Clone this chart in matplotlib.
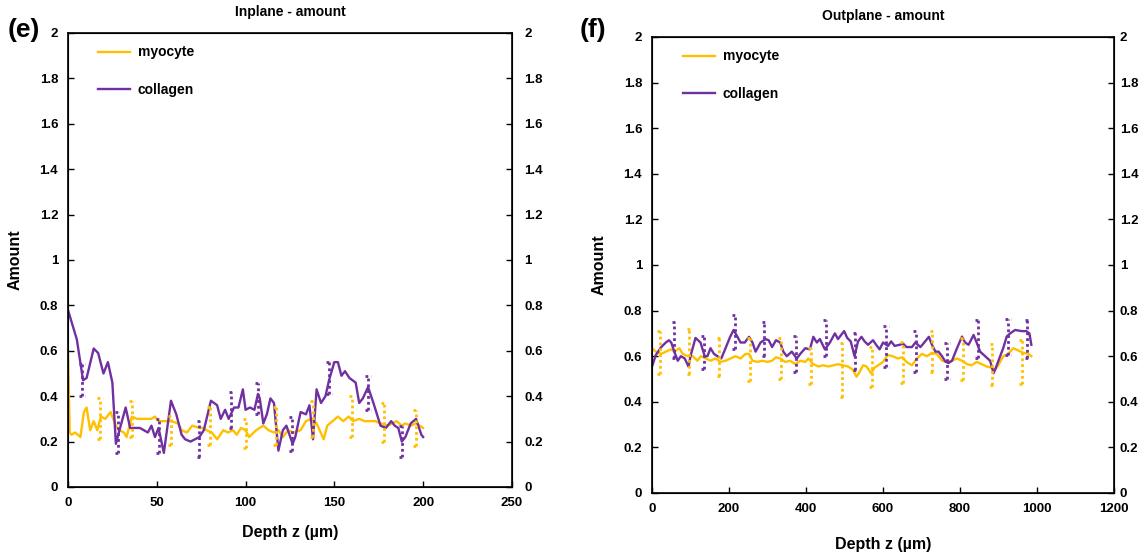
import matplotlib
matplotlib.use("Agg")
import matplotlib.pyplot as plt

plt.rcParams['font.family'] = ['Liberation Sans', 'DejaVu Sans']
plt.rcParams['font.weight'] = 'bold'

MYO_COLOR = '#FFC000'
COL_COLOR = '#7030A0'

# In-plane amount (depth in um)
inplane_myo_z = [0, 1, 2, 4, 7, 9, 10.5, 12.5, 14.5, 16.5, 18.5, 21, 24, 27, 29, 31.5, 33, 36, 39, 43,
                 47, 49, 51, 54, 58, 62, 64, 67, 70, 74, 76.5, 78, 81, 84, 87.5, 90, 93, 95, 97.5, 100,
                 102, 106, 110, 113, 116, 118.5, 121, 124, 127, 131, 134, 137, 140, 144, 146, 152, 155,
                 158, 160.5, 164, 167, 170, 173, 176, 180, 182.5, 185, 188, 190, 193, 196, 200]
inplane_myo = [0.60, 0.24, 0.23, 0.24, 0.22, 0.33, 0.35, 0.25, 0.29, 0.25, 0.31, 0.30, 0.33, 0.27, 0.25,
               0.24, 0.22, 0.31, 0.30, 0.30, 0.30, 0.31, 0.29, 0.29, 0.29, 0.28, 0.25, 0.24, 0.27, 0.26,
               0.26, 0.25, 0.24, 0.21, 0.25, 0.24, 0.25, 0.23, 0.26, 0.25, 0.22, 0.25, 0.27, 0.25, 0.24,
               0.25, 0.22, 0.25, 0.24, 0.25, 0.29, 0.30, 0.28, 0.21, 0.27, 0.31, 0.29, 0.31, 0.29, 0.30,
               0.29, 0.29, 0.29, 0.28, 0.27, 0.28, 0.29, 0.27, 0.28, 0.27, 0.28, 0.26]

inplane_col_z = [0, 5, 8.5, 10.5, 14.5, 17, 20, 22.5, 25, 27, 29, 32.5, 35, 40.5, 45, 47, 49, 51, 54, 58,
                 61, 64, 66, 69, 74, 76.5, 80.5, 84, 86, 88.5, 90.5, 93.5, 96, 98.5, 100, 102.5, 105, 107,
                 108, 110, 112, 114, 116, 118.5, 121, 123, 126.5, 128, 131, 134, 136, 138, 140, 142.5, 145,
                 147, 150, 152, 154, 156, 158.5, 162, 164, 166, 169, 172, 176, 179, 182, 184, 186, 188,
                 190, 193, 196, 199, 200]
inplane_col = [0.78, 0.65, 0.47, 0.48, 0.61, 0.59, 0.50, 0.55, 0.46, 0.19, 0.25, 0.35, 0.26, 0.26, 0.24,
               0.27, 0.22, 0.26, 0.15, 0.38, 0.32, 0.23, 0.21, 0.20, 0.22, 0.25, 0.38, 0.36, 0.30, 0.34,
               0.30, 0.35, 0.35, 0.43, 0.34, 0.35, 0.34, 0.41, 0.39, 0.28, 0.32, 0.39, 0.37, 0.16, 0.25,
               0.27, 0.19, 0.22, 0.33, 0.32, 0.36, 0.21, 0.43, 0.37, 0.40, 0.47, 0.55, 0.55, 0.49, 0.51,
               0.48, 0.46, 0.37, 0.39, 0.44, 0.37, 0.27, 0.26, 0.29, 0.27, 0.26, 0.20, 0.22, 0.28, 0.30,
               0.23, 0.22]

# In-plane error bars (mean +/- sd at sampled depths)
inplane_myo_err_z = [18, 36, 58, 80, 100, 117, 138, 160, 178, 196]
inplane_myo_err_mean = [0.30, 0.30, 0.25, 0.27, 0.235, 0.27, 0.30, 0.31, 0.285, 0.26]
inplane_myo_err_sd = [0.09, 0.08, 0.063, 0.083, 0.065, 0.083, 0.08, 0.09, 0.085, 0.08]
inplane_col_err_z = [8, 28, 51, 74, 92, 107, 126, 147, 169, 188]
inplane_col_err_mean = [0.47, 0.24, 0.225, 0.21, 0.34, 0.39, 0.235, 0.48, 0.415, 0.20]
inplane_col_err_sd = [0.07, 0.09, 0.075, 0.08, 0.08, 0.07, 0.075, 0.07, 0.075, 0.07]

# Out-of-plane amount
outplane_myo_z = [0, 10, 24, 36, 49, 58, 71, 80, 93, 106, 118, 127, 140, 152, 165, 178, 191, 204, 217,
                  230, 243, 252, 261, 274, 286, 299, 312, 322, 333, 346, 359, 372, 385, 398, 406, 419,
                  432, 445, 458, 471, 484, 496, 509, 522, 531, 539, 548, 557, 569, 578, 587, 600, 612,
                  625, 638, 650, 661, 675, 688, 701, 714, 727, 740, 753, 766, 779, 792, 805, 818, 830,
                  843, 856, 869, 881, 891, 899, 912, 925, 938, 951, 964, 977, 985]
outplane_myo = [0.635, 0.62, 0.61, 0.62, 0.63, 0.62, 0.635, 0.61, 0.60, 0.60, 0.58, 0.60, 0.59, 0.58,
                0.59, 0.575, 0.58, 0.59, 0.60, 0.59, 0.61, 0.61, 0.58, 0.575, 0.58, 0.575, 0.58, 0.595,
                0.59, 0.575, 0.58, 0.565, 0.58, 0.575, 0.59, 0.565, 0.555, 0.56, 0.555, 0.56, 0.565,
                0.56, 0.555, 0.54, 0.51, 0.53, 0.56, 0.555, 0.525, 0.55, 0.56, 0.575, 0.605, 0.60, 0.59,
                0.595, 0.575, 0.56, 0.59, 0.61, 0.60, 0.615, 0.61, 0.58, 0.575, 0.58, 0.59, 0.58, 0.565,
                0.56, 0.575, 0.565, 0.555, 0.55, 0.54, 0.56, 0.60, 0.61, 0.635, 0.625, 0.615, 0.61, 0.60]

outplane_col_z = [0, 10, 24, 36, 44, 50, 58, 67, 75, 85, 95, 100, 113, 126, 137, 144, 152, 161, 170, 180,
                  191, 203, 212, 222, 230, 241, 252, 261, 269, 282, 295, 303, 312, 322, 333, 341, 350,
                  363, 376, 385, 398, 410, 419, 428, 436, 449, 462, 475, 483, 492, 499, 507, 516, 526,
                  535, 544, 552, 561, 574, 582, 591, 600, 613, 621, 630, 643, 652, 661, 675, 684, 697,
                  705, 719, 727, 736, 744, 753, 762, 770, 779, 792, 805, 813, 822, 835, 843, 852, 865,
                  878, 887, 893, 904, 912, 921, 930, 943, 960, 972, 980, 985]
outplane_col = [0.554, 0.605, 0.64, 0.66, 0.67, 0.66, 0.62, 0.58, 0.60, 0.59, 0.554, 0.60, 0.68, 0.66,
                0.60, 0.60, 0.635, 0.61, 0.60, 0.59, 0.635, 0.685, 0.715, 0.685, 0.66, 0.66, 0.685, 0.66,
                0.62, 0.66, 0.675, 0.67, 0.64, 0.67, 0.66, 0.62, 0.60, 0.62, 0.59, 0.61, 0.635, 0.63,
                0.685, 0.66, 0.675, 0.63, 0.66, 0.70, 0.675, 0.695, 0.71, 0.68, 0.665, 0.60, 0.665,
                0.685, 0.665, 0.65, 0.67, 0.65, 0.63, 0.66, 0.645, 0.665, 0.645, 0.65, 0.655, 0.64,
                0.64, 0.66, 0.64, 0.656, 0.685, 0.65, 0.62, 0.62, 0.60, 0.576, 0.57, 0.58, 0.635, 0.686,
                0.66, 0.65, 0.693, 0.66, 0.62, 0.60, 0.58, 0.525, 0.55, 0.60, 0.635, 0.686, 0.70, 0.715,
                0.71, 0.71, 0.70, 0.65]

outplane_myo_err_z = [20, 97, 175, 255, 335, 413, 494, 571, 651, 728, 807, 884, 960]
outplane_myo_err_mean = [0.615, 0.62, 0.597, 0.585, 0.588, 0.557, 0.54, 0.553, 0.572, 0.62, 0.588, 0.565, 0.575]
outplane_myo_err_sd = [0.095, 0.10, 0.083, 0.095, 0.09, 0.077, 0.12, 0.087, 0.09, 0.09, 0.092, 0.09, 0.095]
outplane_col_err_z = [58, 134, 215, 292, 373, 451, 528, 608, 685, 766, 846, 924, 975]
outplane_col_err_mean = [0.67, 0.617, 0.705, 0.675, 0.61, 0.68, 0.62, 0.643, 0.62, 0.578, 0.675, 0.685, 0.675]
outplane_col_err_sd = [0.08, 0.073, 0.075, 0.075, 0.078, 0.08, 0.08, 0.09, 0.09, 0.078, 0.085, 0.08, 0.085]

y_ticks = [0, 0.2, 0.4, 0.6, 0.8, 1, 1.2, 1.4, 1.6, 1.8, 2]
y_tick_labels = ['0', '0.2', '0.4', '0.6', '0.8', '1', '1.2', '1.4', '1.6', '1.8', '2']

DOTS = (0, (1, 1.1))


def dotted_errorbars(ax, z, mean, sd, color, cap):
    lo = [m - s for m, s in zip(mean, sd)]
    hi = [m + s for m, s in zip(mean, sd)]
    ax.vlines(z, lo, hi, colors=color, linestyles=DOTS, linewidth=2.0)
    ax.hlines(lo, [v - cap for v in z], [v + cap for v in z], colors=color, linestyles=DOTS, linewidth=2.0)
    ax.hlines(hi, [v - cap for v in z], [v + cap for v in z], colors=color, linestyles=DOTS, linewidth=2.0)


def draw_panel(ax, title, xmax, xstep, myo_z, myo, col_z, col, myo_err, col_err, cap,
               right_pad, xlabel_pad):
    ax.plot(myo_z, myo, color=MYO_COLOR, lw=1.7, label='myocyte')
    ax.plot(col_z, col, color=COL_COLOR, lw=1.7, label='collagen')
    dotted_errorbars(ax, *myo_err, MYO_COLOR, cap)
    dotted_errorbars(ax, *col_err, COL_COLOR, cap)

    ax.set_xlim(0, xmax)
    ax.set_ylim(0, 2)
    ax.set_xticks(range(0, xmax + 1, xstep))
    ax.set_yticks(y_ticks)
    ax.set_yticklabels(y_tick_labels)
    ax.tick_params(direction='in', length=4, width=1, labelsize=9.5, pad=7)
    for s in ax.spines.values():
        s.set_linewidth(1.2)

    ax2 = ax.twinx()
    ax2.set_ylim(0, 2)
    ax2.set_yticks(y_ticks)
    ax2.set_yticklabels(y_tick_labels)
    ax2.tick_params(direction='in', length=4, width=1, labelsize=9.5, pad=right_pad)

    ax.set_title(title, fontsize=10, fontweight='bold', pad=12)
    ax.set_xlabel('Depth z (µm)', fontsize=11.5, fontweight='bold', labelpad=xlabel_pad)
    ax.set_ylabel('Amount', fontsize=11.5, fontweight='bold', labelpad=12)
    ax.legend(loc='upper left', bbox_to_anchor=(0.04, 1.0), frameon=False, fontsize=10,
              handlelength=2.3, labelspacing=1.7, handletextpad=0.55)


fig = plt.figure(figsize=(11.44, 5.52), dpi=100)
ax_e = fig.add_axes([0.0594, 0.1178, 0.3881, 0.8225])
ax_f = fig.add_axes([0.5699, 0.1069, 0.4040, 0.8261])

draw_panel(ax_e, 'Inplane - amount', 250, 50,
           inplane_myo_z, inplane_myo, inplane_col_z, inplane_col,
           (inplane_myo_err_z, inplane_myo_err_mean, inplane_myo_err_sd),
           (inplane_col_err_z, inplane_col_err_mean, inplane_col_err_sd), cap=1.5,
           right_pad=9, xlabel_pad=12)
draw_panel(ax_f, 'Outplane - amount', 1200, 200,
           outplane_myo_z, outplane_myo, outplane_col_z, outplane_col,
           (outplane_myo_err_z, outplane_myo_err_mean, outplane_myo_err_sd),
           (outplane_col_err_z, outplane_col_err_mean, outplane_col_err_sd), cap=7,
           right_pad=4, xlabel_pad=16)

fig.text(0.007, 0.945, '(e)', fontsize=19, fontweight='bold', va='center')
fig.text(0.507, 0.945, '(f)', fontsize=19, fontweight='bold', va='center')

fig.savefig('out.png', dpi=100)
